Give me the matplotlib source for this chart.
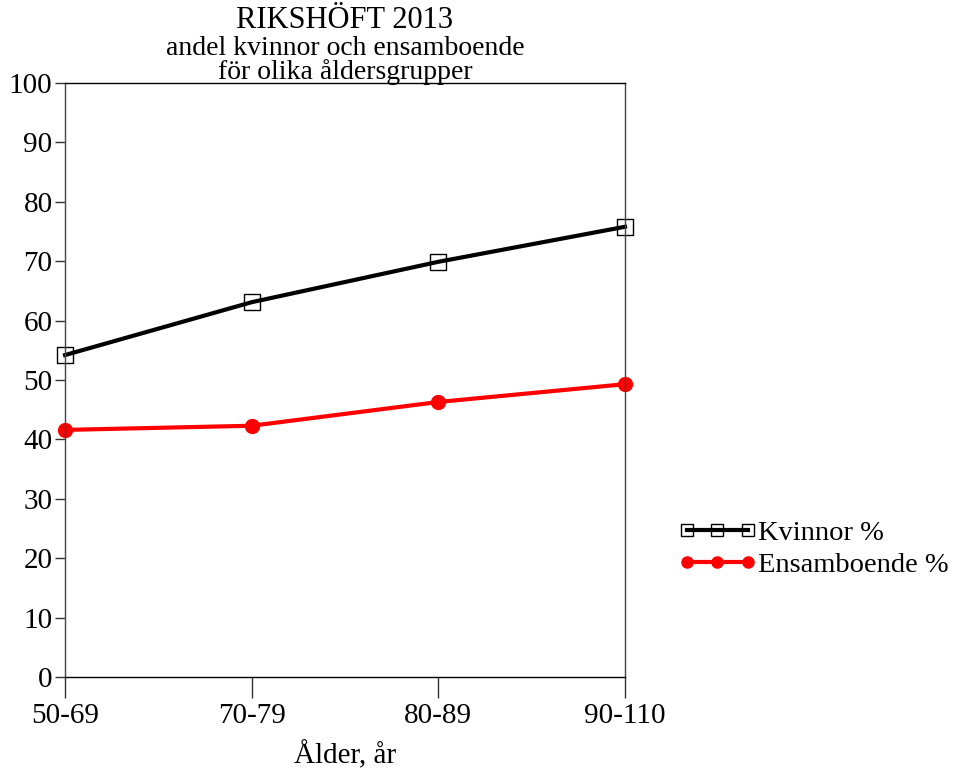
import matplotlib
matplotlib.use("Agg")
import matplotlib.pyplot as plt

plt.rcParams['font.family'] = ['Liberation Serif', 'DejaVu Serif']

age_groups = ["50-69", "70-79", "80-89", "90-110"]
kvinnor = [54.2, 63.1, 69.9, 75.8]
ensamboende = [41.6, 42.3, 46.3, 49.3]
yticks = list(range(0, 101, 10))

fig = plt.figure(figsize=(9.58, 7.73), dpi=100)
ax = fig.add_axes([0.0679, 0.1242, 0.5845, 0.7684])

x = list(range(len(age_groups)))
ax.plot(x, kvinnor, color="black", lw=3, marker="s", ms=12,
        mfc="none", mec="black", mew=1, label="Kvinnor %", clip_on=False)
ax.plot(x, ensamboende, color="#ff0000", lw=3, marker="o", ms=10,
        mfc="#ff0000", mec="#ff0000", label="Ensamboende %", clip_on=False)

ax.set_xlim(0, 3)
ax.set_ylim(0, 100)
ax.set_xticks(x)
ax.set_xticklabels(age_groups, fontsize=21)
ax.set_yticks(yticks)
ax.set_yticklabels([str(v) for v in yticks], fontsize=21)
ax.tick_params(axis="y", length=7, width=1, color="#333333", pad=2)
ax.tick_params(axis="x", length=15, width=1, color="#333333", pad=4)
for s in ax.spines.values():
    s.set_color("#444444")
    s.set_linewidth(1)
ax.spines["bottom"].set_color("black")
ax.spines["top"].set_color("black")

ax.set_xlabel("Ålder, år", fontsize=21, labelpad=8)

fig.text(0.3601, 0.973, "RIKSHÖFT 2013", ha="center", va="center", fontsize=22)
fig.text(0.3601, 0.937, "andel kvinnor och ensamboende", ha="center", va="center", fontsize=20)
fig.text(0.3601, 0.907, "för olika åldersgrupper", ha="center", va="center", fontsize=20)

leg = fig.legend(loc="upper left", bbox_to_anchor=(0.708, 0.327), frameon=False,
                 numpoints=3, handlelength=2.75, handletextpad=0.05, fontsize=20.5,
                 labelspacing=0.2, borderaxespad=0, borderpad=0)
for h in leg.legend_handles:
    h.set_markersize(8)

fig.savefig("out.png", dpi=100)
